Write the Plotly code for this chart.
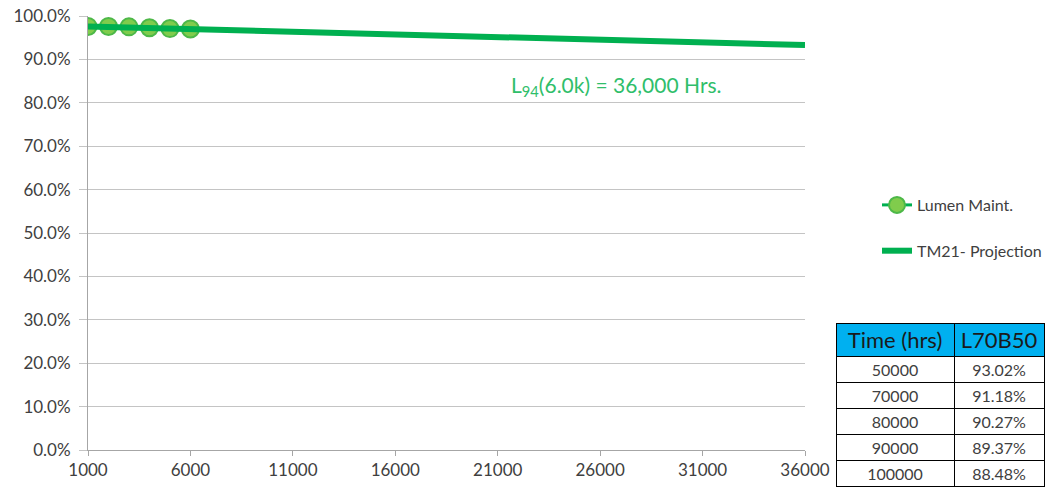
import plotly.graph_objects as go

# ---- data ----
lumen_hours = [1000, 2000, 3000, 4000, 5000, 6000]
lumen_values = [0.976, 0.976, 0.975, 0.973, 0.971, 0.970]

proj_hours = [1000, 6000, 11000, 16000, 21000, 26000, 31000, 36000]
proj_values = [0.976, 0.970, 0.964, 0.959, 0.953, 0.947, 0.940, 0.933]

x_ticks = [1000, 6000, 11000, 16000, 21000, 26000, 31000, 36000]
y_ticks = [0, 0.1, 0.2, 0.3, 0.4, 0.5, 0.6, 0.7, 0.8, 0.9, 1.0]

table_times = ["50000", "70000", "80000", "90000", "100000"]
table_l70b50 = ["93.02%", "91.18%", "90.27%", "89.37%", "88.48%"]

W, H = 1053, 491
FONT = "Lato, 'Open Sans', sans-serif"
GREEN = "#00B050"


def px_x(x):
    return x / W


def px_y(y):
    return (H - y) / H


fig = go.Figure()

fig.add_trace(go.Scatter(
    x=lumen_hours, y=lumen_values, mode="lines+markers", name="Lumen Maint.",
    line=dict(color=GREEN, width=3),
    marker=dict(size=17, color="#80CC4C", line=dict(color="#4DB848", width=2)),
    legendgroup="a",
))
fig.add_trace(go.Scatter(
    x=proj_hours, y=proj_values, mode="lines", name="TM21- Projection",
    line=dict(color=GREEN, width=6),
    legendgroup="b",
))

fig.add_trace(go.Table(
    domain=dict(x=[px_x(836), px_x(1044)], y=[px_y(488), px_y(323)]),
    columnwidth=[118, 90],
    header=dict(
        values=["Time\u00a0(hrs)", "L70B50"],
        fill_color="#00B0F0",
        line=dict(color="#000000", width=1),
        font=dict(family=FONT, size=22, color="#1a1a1a"),
        align="center", height=33,
    ),
    cells=dict(
        values=[table_times, table_l70b50],
        fill_color="white",
        line=dict(color="#000000", width=1),
        font=dict(family=FONT, size=16, color="#404040"),
        align="center", height=26,
    ),
))

fig.add_annotation(
    x=px_x(616), y=px_y(70), xref="paper", yref="paper",
    text="L<sub>94</sub>(6.0k) = 36,000 Hrs.", showarrow=False,
    font=dict(family=FONT, size=21, color="#2FBE6A"),
)

fig.update_layout(
    width=W, height=H,
    margin=dict(l=0, r=0, t=0, b=0, autoexpand=False),
    paper_bgcolor="white", plot_bgcolor="white",
    font=dict(family=FONT, size=17, color="#404040"),
    xaxis=dict(
        domain=[px_x(88), px_x(805)], range=[1000, 36000], automargin=False,
        tickvals=x_ticks, ticktext=[str(v) for v in x_ticks],
        showgrid=False, showline=True, linecolor="#A6A6A6", linewidth=1,
        ticks="outside", ticklen=5, tickcolor="#A6A6A6",
        tickfont=dict(size=17, color="#404040"), zeroline=False,
    ),
    yaxis=dict(
        domain=[px_y(450), px_y(16)], range=[0, 1.0], automargin=False,
        tickvals=y_ticks, tickformat=".1%",
        showgrid=True, gridcolor="#C4C4C4", gridwidth=1,
        showline=True, linecolor="#A6A6A6", linewidth=1,
        ticks="outside", ticklen=8, tickcolor="#C4C4C4",
        ticklabelstandoff=5, ticklabeloverflow="allow",
        tickfont=dict(size=17, color="#404040"), zeroline=False,
    ),
    legend=dict(
        x=px_x(877), y=px_y(188), xanchor="left", yanchor="top",
        font=dict(size=16, color="#404040"), tracegroupgap=22,
        bgcolor="rgba(0,0,0,0)",
    ),
    showlegend=True,
)

fig.write_html("out.html", config={"displayModeBar": False},
               post_script="document.body.style.margin='0px';")
